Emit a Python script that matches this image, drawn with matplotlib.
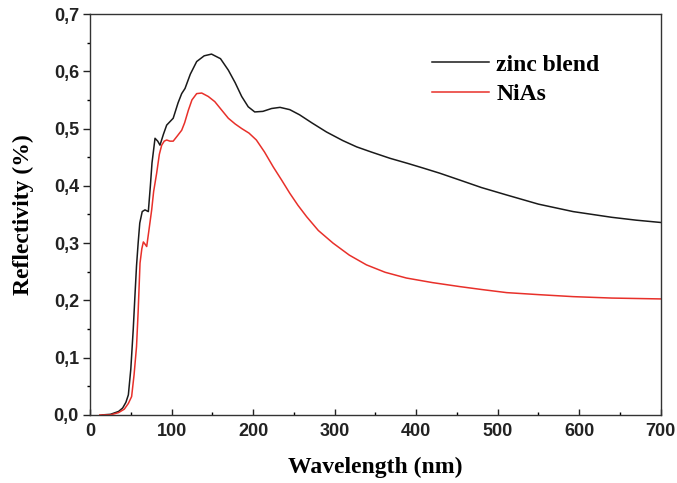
import numpy as np
import matplotlib
matplotlib.use("Agg")
import matplotlib.pyplot as plt
from matplotlib.ticker import MultipleLocator, FuncFormatter
from matplotlib.font_manager import FontProperties

# reflectivity spectra of the two phases
wl_zb = [15, 25, 35, 40, 44, 47, 50, 53, 55, 57, 59, 61, 64, 67.4, 71.5, 74,
         76, 79.7, 83, 85.8, 90, 94, 102, 108, 112.4, 116.5, 123, 130.8, 140,
         149, 160, 169.6, 178, 186, 194, 202, 212, 222.7, 233, 245, 257, 272,
         290, 310, 327, 345, 368, 390, 408.6, 429, 453.6, 480, 511, 550, 592.5,
         640, 670, 700]
refl_zb = [0, 0.001, 0.006, 0.012, 0.022, 0.035, 0.08, 0.15, 0.206, 0.26, 0.30,
           0.335, 0.355, 0.358, 0.355, 0.40, 0.44, 0.483, 0.478, 0.471, 0.49,
           0.506, 0.518, 0.545, 0.561, 0.570, 0.595, 0.617, 0.627, 0.630, 0.622,
           0.602, 0.58, 0.556, 0.538, 0.529, 0.530, 0.535, 0.537, 0.533, 0.524,
           0.51, 0.494, 0.479, 0.468, 0.459, 0.448, 0.439, 0.431, 0.422, 0.410,
           0.397, 0.384, 0.368, 0.355, 0.345, 0.340, 0.336]

wl_nias = [12, 25, 35, 42, 47, 51, 54, 57, 59, 61.3, 63.5, 65.4, 67.5, 69.5,
           72, 75.6, 78, 81.7, 85, 87.9, 91, 94, 98, 102, 107, 112.4, 116,
           120.6, 125, 130.8, 137, 145, 153, 161, 169.6, 178, 186, 195, 204,
           214, 224.7, 235, 245, 255, 265.7, 280, 298, 318, 339, 362, 388, 420,
           453.6, 480, 511, 550, 592.5, 640, 700]
refl_nias = [0, 0, 0.004, 0.01, 0.02, 0.032, 0.07, 0.119, 0.18, 0.265, 0.29,
             0.302, 0.298, 0.294, 0.32, 0.358, 0.39, 0.422, 0.455, 0.471, 0.478,
             0.480, 0.478, 0.478, 0.487, 0.497, 0.51, 0.532, 0.55, 0.561, 0.562,
             0.556, 0.547, 0.533, 0.518, 0.508, 0.500, 0.492, 0.480, 0.459,
             0.433, 0.41, 0.387, 0.366, 0.346, 0.322, 0.300, 0.279, 0.262,
             0.249, 0.239, 0.231, 0.224, 0.219, 0.2135, 0.21, 0.2065, 0.204,
             0.2025]

series_labels = ["zinc blend", "NiAs"]

fig = plt.figure(figsize=(6.77, 4.83), dpi=100)
ax = fig.add_axes([0.133, 0.141, 0.843, 0.830])

ax.plot(wl_zb, refl_zb, color="#1a1a1a", lw=1.1, label=series_labels[0])
ax.plot(wl_nias, refl_nias, color="#e8302a", lw=1.1, label=series_labels[1])

ax.set_xlim(0, 700)
ax.set_ylim(0, 0.7)
ax.xaxis.set_major_locator(MultipleLocator(100))
ax.xaxis.set_minor_locator(MultipleLocator(50))
ax.yaxis.set_major_locator(MultipleLocator(0.1))
ax.yaxis.set_minor_locator(MultipleLocator(0.05))
ax.yaxis.set_major_formatter(FuncFormatter(lambda v, p: f"{v:.1f}".replace(".", ",")))

tickfont = FontProperties(family="Liberation Sans", weight="bold", size=13)
for lab in ax.get_xticklabels() + ax.get_yticklabels():
    lab.set_fontproperties(tickfont)

ax.tick_params(axis="x", which="major", direction="in", length=4.5, width=1, pad=6, top=False)
ax.tick_params(axis="x", which="minor", direction="in", length=2.5, width=1, top=False)
ax.tick_params(axis="y", which="major", direction="out", length=5, width=1, pad=3, right=False)
ax.tick_params(axis="y", which="minor", direction="out", length=2, width=1, right=False)
ax.tick_params(colors="#222222")
for s in ax.spines.values():
    s.set_linewidth(1.0)
    s.set_color("#333333")

labfont = dict(family="Liberation Serif", weight="bold", size=17)
ax.set_xlabel("Wavelength (nm)", labelpad=12, **labfont)
ax.set_ylabel("Reflectivity (%)", labelpad=14, **labfont)

leg = ax.legend(loc="upper left", bbox_to_anchor=(0.6, 0.90), frameon=False,
                borderaxespad=0, borderpad=0,
                handlelength=2.4, handletextpad=0.3, labelspacing=0.35,
                prop=dict(family="Liberation Serif", weight="bold", size=17))

fig.savefig("out.png", dpi=100)
